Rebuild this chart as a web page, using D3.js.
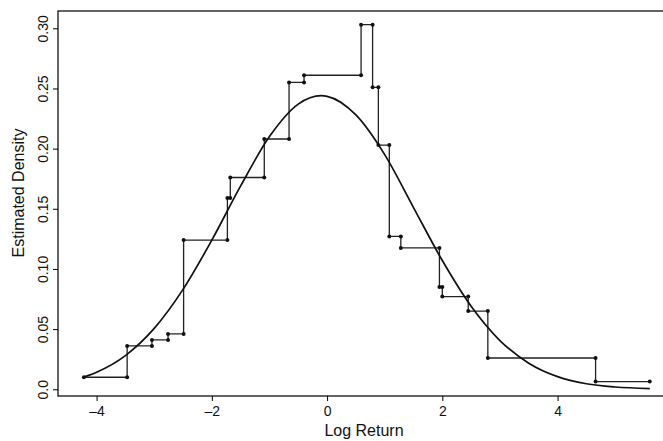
<!DOCTYPE html>
<html>
<head>
<meta charset="utf-8">
<script src="https://cdn.jsdelivr.net/npm/d3@7"></script>
<style>
  body { margin: 0; background: #fff; }
  text { font-family: "Liberation Sans", Arial, sans-serif; fill: #111; }
</style>
</head>
<body>
<svg id="chart" width="663" height="441"></svg>
<script>
// step density: break points and the height between each pair
var breaks = [-4.22, -3.47, -3.04, -2.76, -2.49, -1.73, -1.68, -1.09, -0.66, -0.40,
    0.59, 0.79, 0.89, 1.08, 1.28, 1.95, 2.00, 2.45, 2.79, 4.66, 5.60]
var heights = [0.010, 0.036, 0.041, 0.046, 0.124, 0.159, 0.176, 0.208, 0.255, 0.261,
    0.303, 0.251, 0.203, 0.127, 0.1175, 0.085, 0.077, 0.065, 0.026, 0.0064]

// smooth curve
var curveX = [-4.2, -4.0, -3.5, -3.0, -2.5, -2.0, -1.5, -1.0, -0.5, -0.1, 0.0, 0.5, 1.0,
    1.5, 2.0, 2.5, 3.0, 3.5, 4.0, 4.5, 5.0, 5.6]
var curveY = [0.0105, 0.0142, 0.028, 0.0506, 0.083, 0.124, 0.169, 0.210, 0.237, 0.244,
    0.2435, 0.228, 0.195, 0.151, 0.107, 0.069, 0.0405, 0.0217, 0.0105, 0.0046, 0.0019, 0.0006]

var xTicks = [-4, -2, 0, 2, 4]
var yTicks = [0, 0.05, 0.10, 0.15, 0.20, 0.25, 0.30]
var yTickLabels = ['0.0', '0.05', '0.10', '0.15', '0.20', '0.25', '0.30']

var svg = d3.select('#chart')
var margin = { left: 58, top: 11, right: 664, bottom: 396 }

var x = d3.scaleLinear().domain([-4.67, 5.83]).range([margin.left, 663])
var y = d3.scaleLinear().domain([-0.0056, 0.3144]).range([margin.bottom, margin.top])

// frame
svg.append('rect')
    .attr('x', margin.left).attr('y', margin.top)
    .attr('width', margin.right - margin.left).attr('height', margin.bottom - margin.top)
    .attr('fill', 'none').attr('stroke', '#111').attr('stroke-width', 1.3)

// axes
var xAxis = svg.append('g')
    .attr('transform', 'translate(0,' + margin.bottom + ')')
    .call(d3.axisBottom(x).tickValues(xTicks).tickSize(5).tickPadding(5)
        .tickFormat(d => d < 0 ? '\u2013' + Math.abs(d) : d))
xAxis.select('.domain').remove()
xAxis.selectAll('text').attr('font-size', 14).style('font-family', '"Liberation Sans", Arial, sans-serif')

var yAxis = svg.append('g')
    .attr('transform', 'translate(' + margin.left + ',0)')
    .call(d3.axisLeft(y).tickValues(yTicks).tickSize(5)
        .tickFormat((d, i) => yTickLabels[i]))
yAxis.select('.domain').remove()
yAxis.selectAll('text')
    .attr('font-size', 14)
    .style('font-family', '"Liberation Sans", Arial, sans-serif')
    .attr('text-anchor', 'middle')
    .attr('x', null).attr('dy', null)
    .attr('transform', 'translate(-15,0) rotate(-90)')
    .attr('dominant-baseline', 'central')

svg.append('text')
    .attr('x', 364).attr('y', 436)
    .attr('text-anchor', 'middle')
    .attr('font-size', 16)
    .text('Log Return')

svg.append('text')
    .attr('transform', 'translate(24,193) rotate(-90)')
    .attr('text-anchor', 'middle')
    .attr('font-size', 16)
    .text('Estimated Density')

// step path
var stepPts = []
heights.forEach(function (h, i) {
    stepPts.push([breaks[i], h])
    stepPts.push([breaks[i + 1], h])
})
svg.append('path')
    .datum(stepPts)
    .attr('fill', 'none')
    .attr('stroke', '#222')
    .attr('stroke-width', 1.3)
    .attr('d', d3.line().x(d => x(d[0])).y(d => y(d[1])))

svg.append('g')
    .selectAll('circle')
    .data(stepPts)
    .enter()
    .append('circle')
    .attr('cx', d => x(d[0]))
    .attr('cy', d => y(d[1]))
    .attr('r', 2)
    .attr('fill', '#111')

// smooth curve
svg.append('path')
    .datum(curveX.map((v, i) => [v, curveY[i]]))
    .attr('fill', 'none')
    .attr('stroke', '#111')
    .attr('stroke-width', 1.7)
    .attr('d', d3.line().curve(d3.curveMonotoneX).x(d => x(d[0])).y(d => y(d[1])))
</script>
</body>
</html>
